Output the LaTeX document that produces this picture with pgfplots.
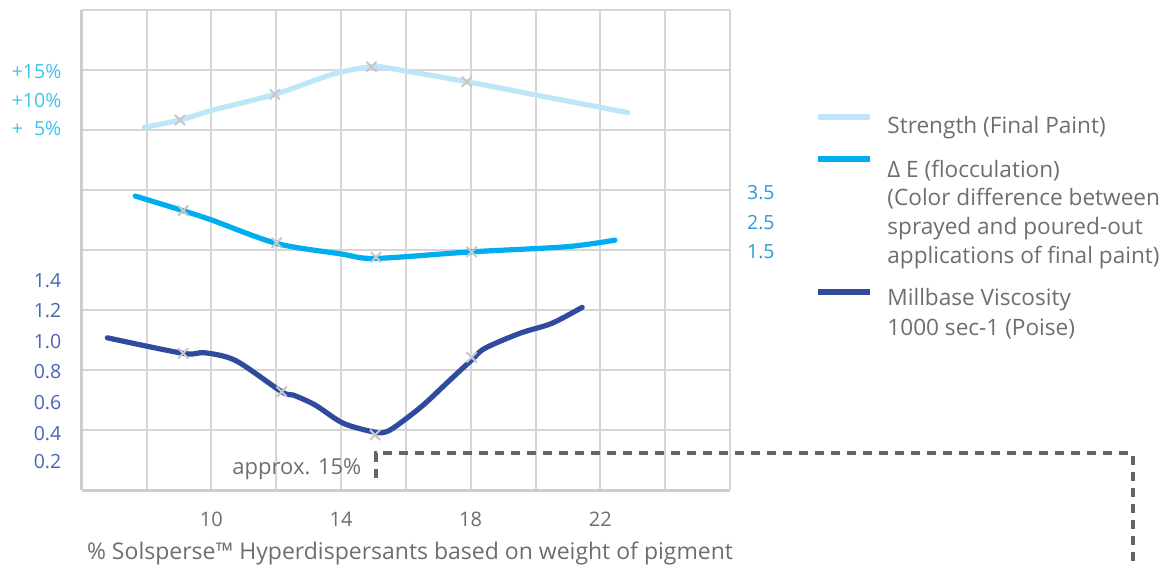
\documentclass[border=0pt]{standalone}
\usepackage{fontspec}
\setmainfont{Open Sans}
\usepackage{pgfplots}
\usepackage{pgfplotstable}
\pgfplotsset{compat=1.18}
\definecolor{gridc}{HTML}{D6D6D6}
\definecolor{axisc}{HTML}{CDCDCD}
\definecolor{strc}{HTML}{BEE6F9}
\definecolor{dec}{HTML}{00ADEE}
\definecolor{visc}{HTML}{2E4B9E}
\definecolor{strl}{HTML}{3FC2F0}
\definecolor{del}{HTML}{2C9BD8}
\definecolor{visl}{HTML}{4A64B4}
\definecolor{txt}{HTML}{6D6E71}
\definecolor{dashc}{HTML}{62656A}
\definecolor{markc}{HTML}{C8C8C8}

% Strength (Final Paint), in %
\pgfplotstableread{
x s
7.93 5.45
9.03 6.67
10.05 8.33
11.96 10.95
13.75 14.3
14.94 15.55
15.6 15.2
17.88 13.05
20.37 10.47
22.85 7.9
}\strength
\pgfplotstableread{
x s
9.03 6.67
11.96 10.95
14.94 15.55
17.88 13.05
}\strengthmarks

% Delta E (flocculation)
\pgfplotstableread{
x d
7.65 3.30
9.13 2.81
10.01 2.50
12.01 1.72
14.0 1.37
15.05 1.22
18.03 1.44
20.96 1.61
22.45 1.83
}\deltae
\pgfplotstableread{
x d
9.13 2.81
12.01 1.74
15.08 1.26
18.03 1.44
}\deltaemarks

% Millbase viscosity (Poise)
\pgfplotstableread{
x v
6.79 1.015
9.13 0.911
9.80 0.915
10.76 0.862
12.17 0.655
12.53 0.633
13.2 0.567
14.07 0.445
15.05 0.385
15.41 0.389
15.82 0.445
16.54 0.567
17.36 0.733
18.03 0.867
18.44 0.945
19.52 1.045
20.5 1.111
21.44 1.218
}\viscosity
\pgfplotstableread{
x v
9.13 0.911
12.17 0.655
15.05 0.367
18.03 0.885
}\viscositymarks

\begin{document}
\begin{tikzpicture}
\path[use as bounding box] (0pt,0pt) rectangle (586.5pt,-282pt);
\begin{axis}[
  at={(40.85pt,-245pt)}, anchor=south west,
  scale only axis, width=324.15pt, height=240pt,
  xmin=6, xmax=26, ymin=0, ymax=8,
  xtick={6,8,...,26}, xticklabels={,,10,,14,,18,,22,,},
  ytick={0,1,...,8}, yticklabels={},
  major tick length=0pt,
  grid=major, major grid style={line width=1pt, gridc},
  axis x line*=bottom, axis y line*=left,
  axis line style={-, line width=1.5pt, axisc},
  xticklabel style={font=\fontsize{10}{12}\selectfont, text=txt, inner sep=0pt, anchor=north, yshift=-10.8pt},
  xlabel={\% Solsperse™ Hyperdispersants based on weight of pigment},
  xlabel style={at={(axis description cs:0.0077,-0.14375)}, anchor=base west, inner sep=0pt, font=\fontsize{11.5}{13}\selectfont, text=txt},
  mymark/.style={markc, only marks, mark=x, mark size=3.6pt, mark options={line width=1pt}, forget plot},
]
\addplot[mymark] table[x=x, y expr={4+(\thisrow{d}-1.5)/2}] {\deltaemarks};
\addplot[mymark] table[x=x, y expr={\thisrow{v}/0.4}] {\viscositymarks};
\addplot[strc, line width=2.6pt, line cap=round, smooth, no markers]
  table[x=x, y expr={6+(\thisrow{s}-5)/10}] {\strength};
\addplot[dec, line width=2.6pt, line cap=round, smooth, no markers]
  table[x=x, y expr={4+(\thisrow{d}-1.5)/2}] {\deltae};
\addplot[visc, line width=2.6pt, line cap=round, smooth, no markers]
  table[x=x, y expr={\thisrow{v}/0.4}] {\viscosity};
\addplot[mymark] table[x=x, y expr={6+(\thisrow{s}-5)/10}] {\strengthmarks};
\end{axis}
\begin{scope}[x=0.5pt, y=-0.5pt, every node/.style={inner sep=0pt}]
  % left scale: strength
  \begin{scope}[font=\fontsize{9.75}{11}\selectfont]
  \node[anchor=base east, text=strl] at (61.7,78) {+15\%};
  \node[anchor=base east, text=strl] at (61.7,107) {+10\%};
  \node[anchor=base east, text=strl] at (61.7,135.5) {+\phantom{1}5\%};
  % left scale: viscosity
  \node[anchor=base east, text=visl] at (61.7,287) {1.4};
  \node[anchor=base east, text=visl] at (61.7,317) {1.2};
  \node[anchor=base east, text=visl] at (61.7,348) {1.0};
  \node[anchor=base east, text=visl] at (61.7,378) {0.8};
  \node[anchor=base east, text=visl] at (61.7,409) {0.6};
  \node[anchor=base east, text=visl] at (61.7,440) {0.4};
  \node[anchor=base east, text=visl] at (61.7,468) {0.2};
  % right scale: delta E
  \node[anchor=base west, text=del] at (746.7,199) {3.5};
  \node[anchor=base west, text=del] at (746.7,229) {2.5};
  \node[anchor=base west, text=del] at (746.7,258) {1.5};
  \end{scope}
  % legend
  \draw[strc, line width=3pt] (818,116.7) -- (870,116.7);
  \draw[dec, line width=3pt] (818,159.3) -- (870,159.3);
  \draw[visc, line width=3pt] (818,292.3) -- (870,292.3);
  \begin{scope}[font=\fontsize{11.3}{13}\selectfont, every node/.append style={anchor=base west, text=txt}]
  \node at (887,133) {Strength (Final Paint)};
  \node at (887,177.3) {Δ E (flocculation)};
  \node at (887,205.5) {(Color difference between};
  \node at (887,234) {sprayed and poured-out};
  \node at (887,263) {applications of final paint)};
  \node at (887,305) {Millbase Viscosity};
  \node at (887,335) {1000 sec-1 (Poise)};
  \end{scope}
  % approx. 15% bracket
  \draw[dashc, line width=2pt, dash pattern=on 4.5pt off 3.5pt] (376,478) -- (376,453.3) -- (1132.7,453.3) -- (1132.7,566);
  \node[anchor=base east, text=txt, font=\fontsize{11}{12}\selectfont] at (361.7,474) {approx. 15\%};
\end{scope}
\end{tikzpicture}
\end{document}
